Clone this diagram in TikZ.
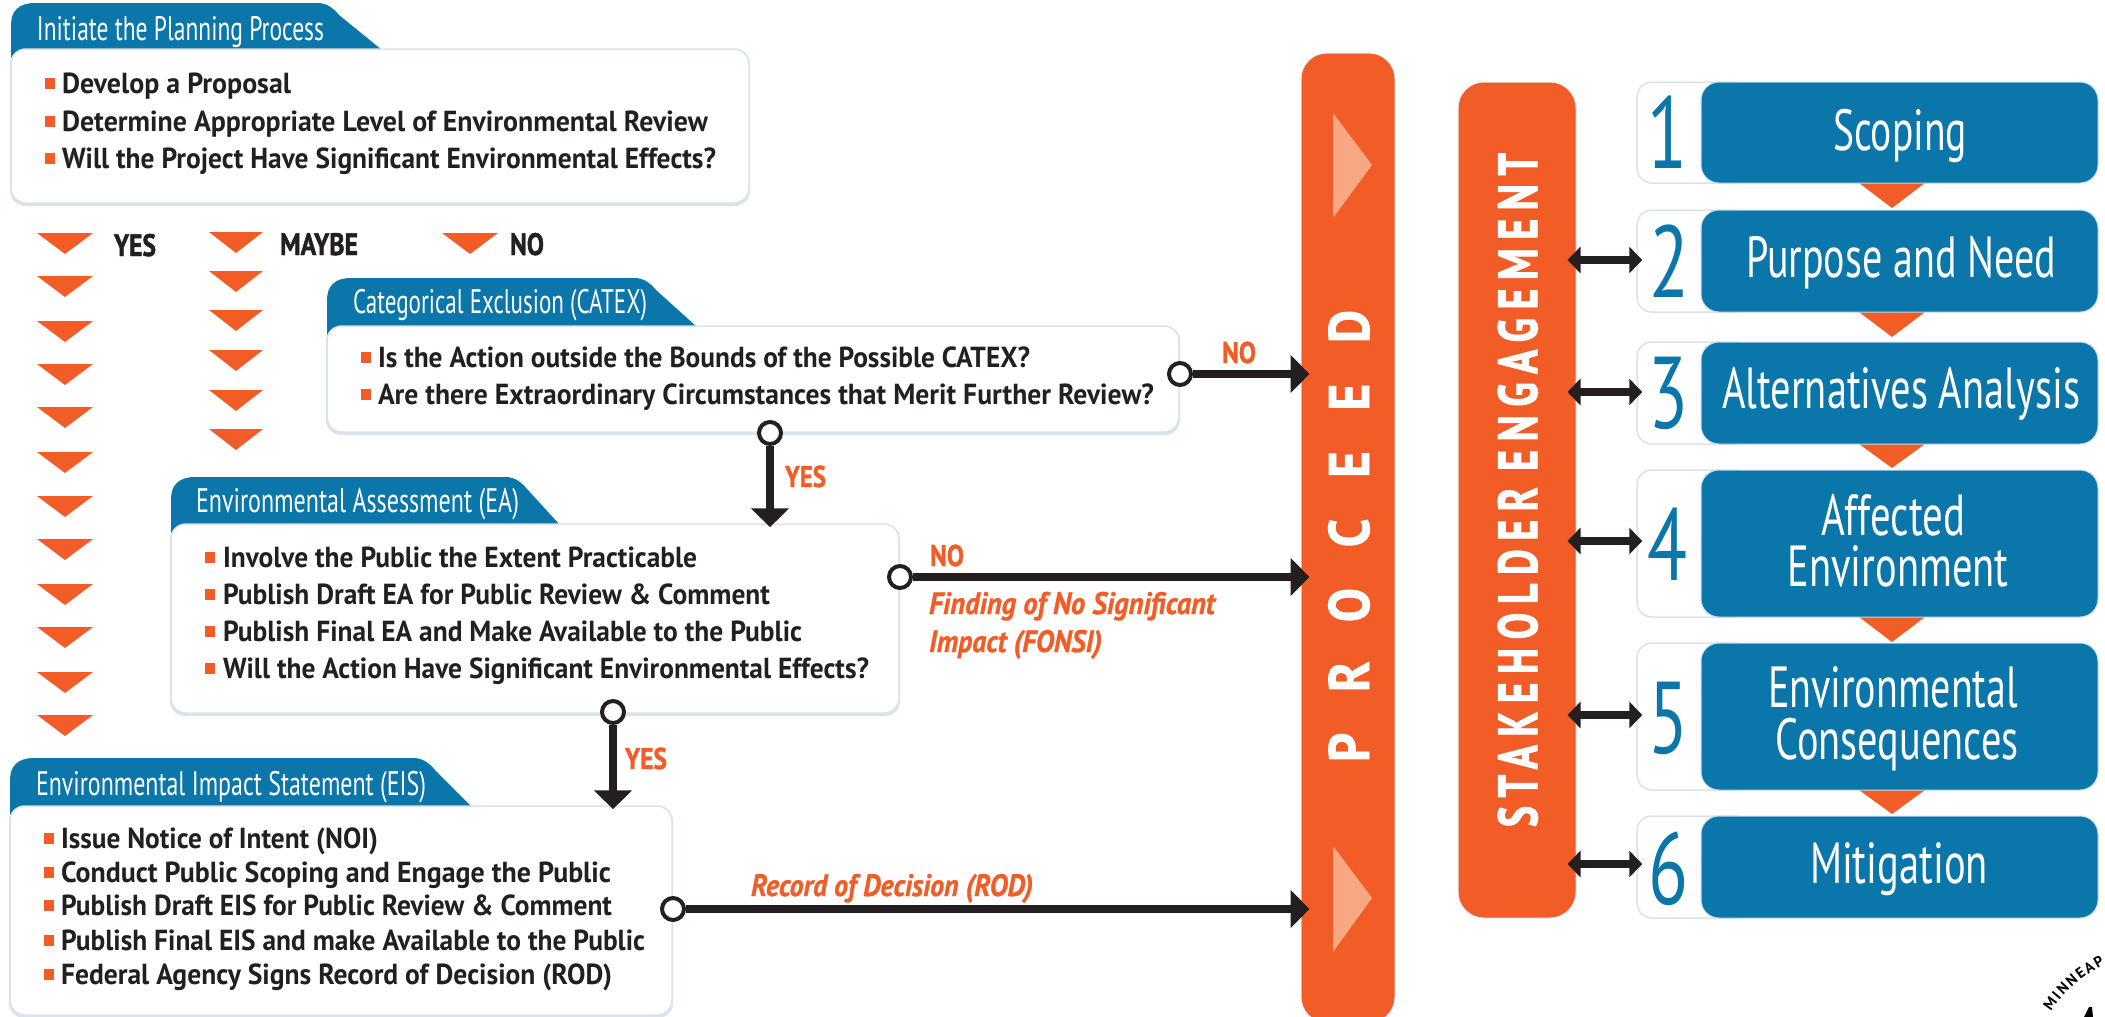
\documentclass[tikz,border=0pt]{standalone}
\usepackage{graphicx}
\usepackage{fontspec}
\setmainfont{PT Sans}
\usetikzlibrary{arrows.meta,decorations.text}
\definecolor{cblue}{HTML}{0B76A9}
\definecolor{corange}{HTML}{F25C27}
\definecolor{clight}{HTML}{F7A883}
\definecolor{cblack}{HTML}{231F20}
\definecolor{cshadow}{HTML}{D8E3EC}
\newsavebox{\fitbox}
\newcommand{\fs}[1]{\fontsize{#1}{#1}\selectfont}
\newcommand{\fitx}[2]{\sbox{\fitbox}{#2}\pgfmathsetmacro{\fitr}{#1/\the\wd\fitbox}\scalebox{\fitr}[1]{\usebox{\fitbox}}}
\tikzset{
  txt/.style={inner sep=0pt,outer sep=0pt,anchor=base west},
  ctxt/.style={inner sep=0pt,outer sep=0pt,anchor=base,text=white},
  wbox/.style={draw=cshadow,line width=1.5pt,fill=white,rounded corners=15pt,inner sep=0pt},
  bbox/.style={draw=cblue!25,line width=1pt,fill=cblue,rounded corners=18pt,inner sep=0pt},
  bar/.style={draw=cblue!15,line width=1pt,fill=corange,rounded corners=26pt,inner sep=0pt},
  knob/.style={circle,draw=cblack,line width=4pt,fill=white,minimum size=22pt,inner sep=0pt},
  flow/.style={draw=cblack,line width=8pt,-{Triangle[length=19pt,width=37pt]}},
  dbl/.style={draw=cblack,line width=8pt,{Triangle[length=13pt,width=26pt]}-{Triangle[length=13pt,width=26pt]}},
  tri/.style={fill=corange},
}
\newcommand{\wb}[5]{\fill[cshadow,rounded corners=15pt] (#2-1,#3) rectangle (#4+1,#5+3);
  \node[wbox,minimum width={(#4-#2)*1pt},minimum height={(#5-#3)*1pt}] (#1) at ({(#2+#4)/2},{(#3+#5)/2}) {};}
\newcommand{\tabshape}[6]{\fill[cblue] (#1,#6) -- (#1,#2+22) .. controls (#1,#2+8) and (#1+8,#2) .. (#1+24,#2) -- (#3-10,#2) .. controls (#3,#2) and (#3+6,#2+5) .. (#3+12,#2+12) -- (#4,#5+1) -- (#1+20,#5+1) -- cycle;}
\newcommand{\ttl}[5]{\node[txt,text=white] (#1) at (#2,#3) {\fs{34}\fitx{#4}{#5}};}
\newcommand{\bul}[6]{\fill[corange] (#2,#4-15) rectangle (#2+10,#4-4);
  \node[txt,text=cblack] (#1) at (#3,#4) {\fs{29}\bfseries\fitx{#5}{#6}};}
\newcommand{\olab}[5]{\node[txt,text=corange] (#1) at (#2,#3) {\fs{30}\bfseries\addfontfeature{FakeBold=1.2}\fitx{#4}{#5}};}
\newcommand{\blab}[5]{\node[txt,text=cblack] (#1) at (#2,#3) {\fs{31}\bfseries\addfontfeature{FakeBold=1.5}\fitx{#4}{#5}};}
\newcommand{\ilab}[5]{\node[txt,text=corange] (#1) at (#2,#3) {\fs{31}\bfseries\itshape\addfontfeature{FakeBold=1}\fitx{#4}{#5}};}
\newcommand{\dtri}[3]{\fill[tri] (#1-#3,#2) -- (#1+#3,#2) -- (#1,#2+21) -- cycle;}
\newcommand{\ctri}[2]{\fill[tri] (1859,#1) -- (1925,#1) -- (1892,#2) -- cycle;}
\newcommand{\stepbox}[4]{\node[wbox,minimum width=113pt,minimum height={(#3-#2)*1pt}] (nb#1) at (1693.5,{(#2+#3)/2}) {};
  \node[bbox,minimum width=397pt,minimum height={(#3-#2)*1pt}] (st#1) at (1899.5,{(#2+#3)/2}) {};
  \node[ctxt,text=cblue] (num#1) at (#4) {\fs{102}\fitx{40}{#1}};}
\newcommand{\stxt}[5]{\node[ctxt] (#1) at (#2,#3) {\fs{58}\fitx{#4}{#5}};}
\begin{document}
\begin{tikzpicture}[x=1pt,y=-1pt]
\useasboundingbox (0,0) rectangle (2105,1017);
% Initiate
\tabshape{11}{3}{327}{382}{49}{62}
\wb{pinit}{11}{49}{749}{203}
\ttl{tinit}{37}{40}{287}{Initiate the Planning Process}
\bul{i1}{45}{62}{93}{229}{Develop a Proposal}
\bul{i2}{45}{62}{131}{646}{Determine Appropriate Level of Environmental Review}
\bul{i3}{45}{62}{168}{654}{Will the Project Have Significant Environmental Effects?}
% Triangle columns
\foreach \yy in {233,276,321,364,407,452,496,539,584,627,672,715} {\dtri{65}{\yy}{28}}
\foreach \yy in {232,271,310,350,390,429} {\dtri{236}{\yy}{27}}
\dtri{470}{233}{28}
\blab{lyes}{114}{256}{42}{YES}
\blab{lmaybe}{280}{255}{78}{MAYBE}
\blab{lno}{510}{255}{34}{NO}
% CATEX
\tabshape{327}{278}{644}{697}{326}{337}
\wb{pcat}{327}{326}{1179}{432}
\ttl{tcat}{353}{313}{294}{Categorical Exclusion (CATEX)}
\bul{c1}{361}{378}{367}{652}{Is the Action outside the Bounds of the Possible CATEX?}
\bul{c2}{361}{378}{404}{776}{Are there Extraordinary Circumstances that Merit Further Review?}
% EA
\tabshape{171}{477}{515}{560}{524}{535}
\wb{pea}{171}{524}{899}{713}
\ttl{tea}{196}{512}{323}{Environmental Assessment (EA)}
\bul{e1}{205}{223}{567}{474}{Involve the Public the Extent Practicable}
\bul{e2}{205}{223}{604}{547}{Publish Draft EA for Public Review \& Comment}
\bul{e3}{205}{223}{641}{579}{Publish Final EA and Make Available to the Public}
\bul{e4}{205}{223}{678}{646}{Will the Action Have Significant Environmental Effects?}
% EIS
\tabshape{10}{758}{423}{472}{806}{817}
\wb{peis}{10}{806}{672}{1015}
\ttl{teis}{36}{795}{390}{Environmental Impact Statement (EIS)}
\bul{s1}{44}{61}{848}{317}{Issue Notice of Intent (NOI)}
\bul{s2}{44}{61}{882}{550}{Conduct Public Scoping and Engage the Public}
\bul{s3}{44}{61}{915}{551}{Publish Draft EIS for Public Review \& Comment}
\bul{s4}{44}{61}{950}{584}{Publish Final EIS and make Available to the Public}
\bul{s5}{44}{61}{984}{551}{Federal Agency Signs Record of Decision (ROD)}
% Proceed bar
\node[bar,minimum width=94pt,minimum height=970pt] (proceed) at (1348,538) {};
\fill[clight] (1333,113) -- (1372,165) -- (1333,218) -- cycle;
\fill[clight] (1333,846) -- (1372,898) -- (1333,952) -- cycle;
\node[ctxt,rotate=90] (tproceed) at (1369,536) {\fs{57}\bfseries\addfontfeature{LetterSpace=80,FakeBold=1.5}\fitx{452}{PROCEED}};
% Stakeholder bar
\node[bar,minimum width=118pt,minimum height=836pt] (stake) at (1517,500) {};
\node[ctxt,rotate=90] (tstake) at (1537,490) {\fs{55}\bfseries\addfontfeature{LetterSpace=22,FakeBold=2}\fitx{674}{\spaceskip=0.42em\relax STAKEHOLDER ENGAGEMENT}};
% Steps
\ctri{183}{208}
\ctri{312}{337}
\ctri{444}{468}
\ctri{617}{642}
\ctri{790}{814}
\stepbox{1}{82}{183}{1667,168}
\stepbox{2}{210}{312}{1669,297}
\stepbox{3}{342}{444}{1668,428}
\stepbox{4}{470}{617}{1667,580}
\stepbox{5}{643}{790}{1668,753}
\stepbox{6}{816}{918}{1668,904}
\stxt{x1}{1900}{150}{134}{Scoping}
\stxt{x2}{1901}{277}{310}{Purpose and Need}
\stxt{x3}{1901}{408}{358}{Alternatives Analysis}
\stxt{x4a}{1893}{535}{144}{Affected}
\stxt{x4b}{1898}{586}{221}{Environment}
\stxt{x5a}{1893}{707}{250}{Environmental}
\stxt{x5b}{1897}{759}{243}{Consequences}
\stxt{x6}{1899}{883}{178}{Mitigation}
% Double arrows
\draw[dbl,shorten <=-9pt,shorten >=-6pt] (stake.east |- 0,260) -- (nb2.west |- 0,260);
\draw[dbl,shorten <=-9pt,shorten >=-6pt] (stake.east |- 0,392) -- (nb3.west |- 0,392);
\draw[dbl,shorten <=-9pt,shorten >=-6pt] (stake.east |- 0,541) -- (nb4.west |- 0,541);
\draw[dbl,shorten <=-9pt,shorten >=-6pt] (stake.east |- 0,715) -- (nb5.west |- 0,715);
\draw[dbl,shorten <=-9pt,shorten >=-6pt] (stake.east |- 0,864) -- (nb6.west |- 0,864);
% Knobs and flows
\node[knob] (k1) at (1180,374) {};
\node[knob] (k2) at (770,433) {};
\node[knob] (k3) at (900,577) {};
\node[knob] (k4) at (613,712) {};
\node[knob] (k5) at (673,909) {};
\draw[flow,shorten >=-9pt] (k1) -- (k1 -| proceed.west);
\draw[flow,shorten >=-9pt] (k3) -- (k3 -| proceed.west);
\draw[flow,shorten >=-9pt] (k5) -- (k5 -| proceed.west);
\draw[flow,shorten >=-4pt] (k2) -- (k2 |- pea.north);
\draw[flow,shorten >=-4pt] (k4) -- (k4 |- peis.north);
\olab{n1}{1222}{363}{34}{NO}
\olab{n2}{930}{566}{34}{NO}
\olab{y1}{785}{487}{41}{YES}
\olab{y2}{625}{769}{42}{YES}
\ilab{f1}{929}{614}{286}{Finding of No Significant}
\ilab{f2}{929}{652}{173}{Impact (FONSI)}
\ilab{r1}{751}{896}{282}{Record of Decision (ROD)}
% Seal fragment
\path[decorate,decoration={text along path,text align={fit to path},text={|\fs{15}\bfseries|MINNEAP}}]
  (2051,1012) .. controls (2064,992) and (2082,976) .. (2105,964);
\fill[black] (2089,1007) -- (2092,1007) -- (2093,1017) -- (2084,1017) -- cycle;
\end{tikzpicture}
\end{document}
